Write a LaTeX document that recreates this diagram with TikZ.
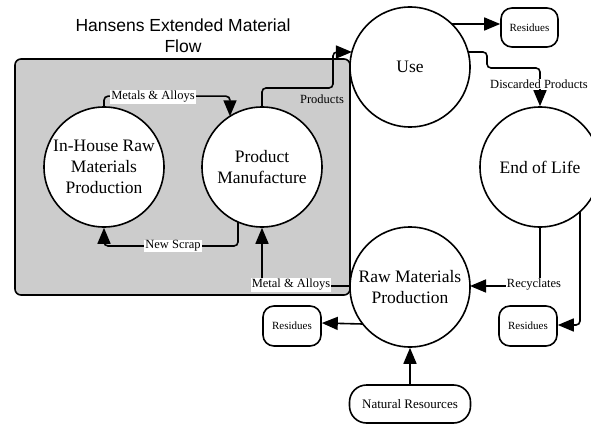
\documentclass[tikz,border=0pt]{standalone}
\usepackage{fontspec}
\setmainfont{Liberation Serif}
\newfontfamily\titlefont{Liberation Sans}
\usetikzlibrary{arrows.meta,calc}
\begin{document}
\begin{tikzpicture}[x=1pt,y=-1pt,
  proc/.style={circle,draw,line width=1.6pt,fill=white,minimum size=120pt,inner sep=0pt,align=center,font=\fontsize{17.5}{21}\selectfont},
  term/.style={rounded corners=11pt,draw,line width=1.6pt,fill=white,align=center,inner sep=0pt},
  flow/.style={line width=1.6pt,rounded corners=4pt,-{Triangle[length=16pt,width=13pt]}},
  lbl/.style={fill=white,inner sep=1pt,font=\fontsize{12.5}{14}\selectfont},
  plain/.style={inner sep=1pt,font=\fontsize{12.5}{14}\selectfont}]
\useasboundingbox (0,0) rectangle (591,425);
\fill[white] (0,0) rectangle (591,425);
% title
\node[font=\titlefont\fontsize{17.5}{21}\selectfont,align=center] (title) at (183,36) {Hansens Extended Material\\Flow};
% gray box
\draw[line width=1.6pt,fill={rgb,255:red,204;green,204;blue,204},rounded corners=6pt] (15,59) rectangle (350,295);
% process circles
\node[proc] (ih) at (104,167) {In-House Raw\\Materials\\Production};
\node[proc] (pm) at (262,167) {Product\\Manufacture};
\node[proc] (use) at (410,67) {Use};
\node[proc] (eol) at (540,167) {End of Life};
\node[proc] (rmp) at (410,287) {Raw Materials\\Production};
% terminals
\node[term,minimum width=57pt,minimum height=39pt,font=\fontsize{11}{12}\selectfont] (resU) at (529.5,27.5) {Residues};
\node[term,minimum width=58pt,minimum height=40pt,font=\fontsize{11}{12}\selectfont] (resL) at (292,326) {Residues};
\node[term,minimum width=58pt,minimum height=40pt,font=\fontsize{11}{12}\selectfont] (resR) at (528,326) {Residues};
\node[term,minimum width=121pt,minimum height=38pt,rounded corners=17pt,font=\fontsize{13}{14}\selectfont] (nat) at (410,404) {Natural Resources};
% Metals & Alloys : ih -> pm
\draw[flow] (ih.north) -- ++(0,-10) -| ($(pm.center)+(-32,-50.7)$);
\node[lbl] (lma) at (153,97) {Metals \& Alloys};
% Products : pm -> use
\draw[flow] (pm.north) -- (262,88) -- (333,88) -- (333,52) -- ($(use.center)+(-58.1,-15)$);
\node[plain] (lprod) at (322,99) {Products};
% New Scrap : pm -> ih
\draw[flow] ($(pm.center)+(-24,55)$) |- (173,246) -| (ih.south);
\node[lbl] (lns) at (173,246) {New Scrap};
% Metal & Alloys : rmp -> pm
\draw[flow] ($(rmp.center)+(-60,-1)$) -- (262,286) -- (pm.south);
\node[lbl] (lma2) at (291,285) {Metal \& Alloys};
% Use -> Residues
\draw[flow] ($(use.center)+(41.8,-43)$) -- (resU.west |- 0,24);
% Discarded Products : use -> eol
\draw[flow] ($(use.center)+(58,-15)$) -- (487,52) -- (487,68) -- (540,68) -- (eol.north);
\node[lbl] (ldp) at (539,84) {Discarded Products};
% Recyclates : eol -> rmp
\draw[flow] (eol.south) -- (540,286) -- ($(rmp.center)+(60,-1)$);
\node[lbl] (lrec) at (534,285) {Recyclates};
% eol -> right residues
\draw[flow] ($(eol.center)+(40,44.7)$) -- (580,325) -- (resR.east |- 0,325);
% rmp -> left residues
\draw[flow] ($(rmp.center)+(-47.2,37)$) -- (resL.east |- 0,323);
% natural resources -> rmp
\draw[flow] (nat.north) -- (rmp.south);
\end{tikzpicture}
\end{document}
